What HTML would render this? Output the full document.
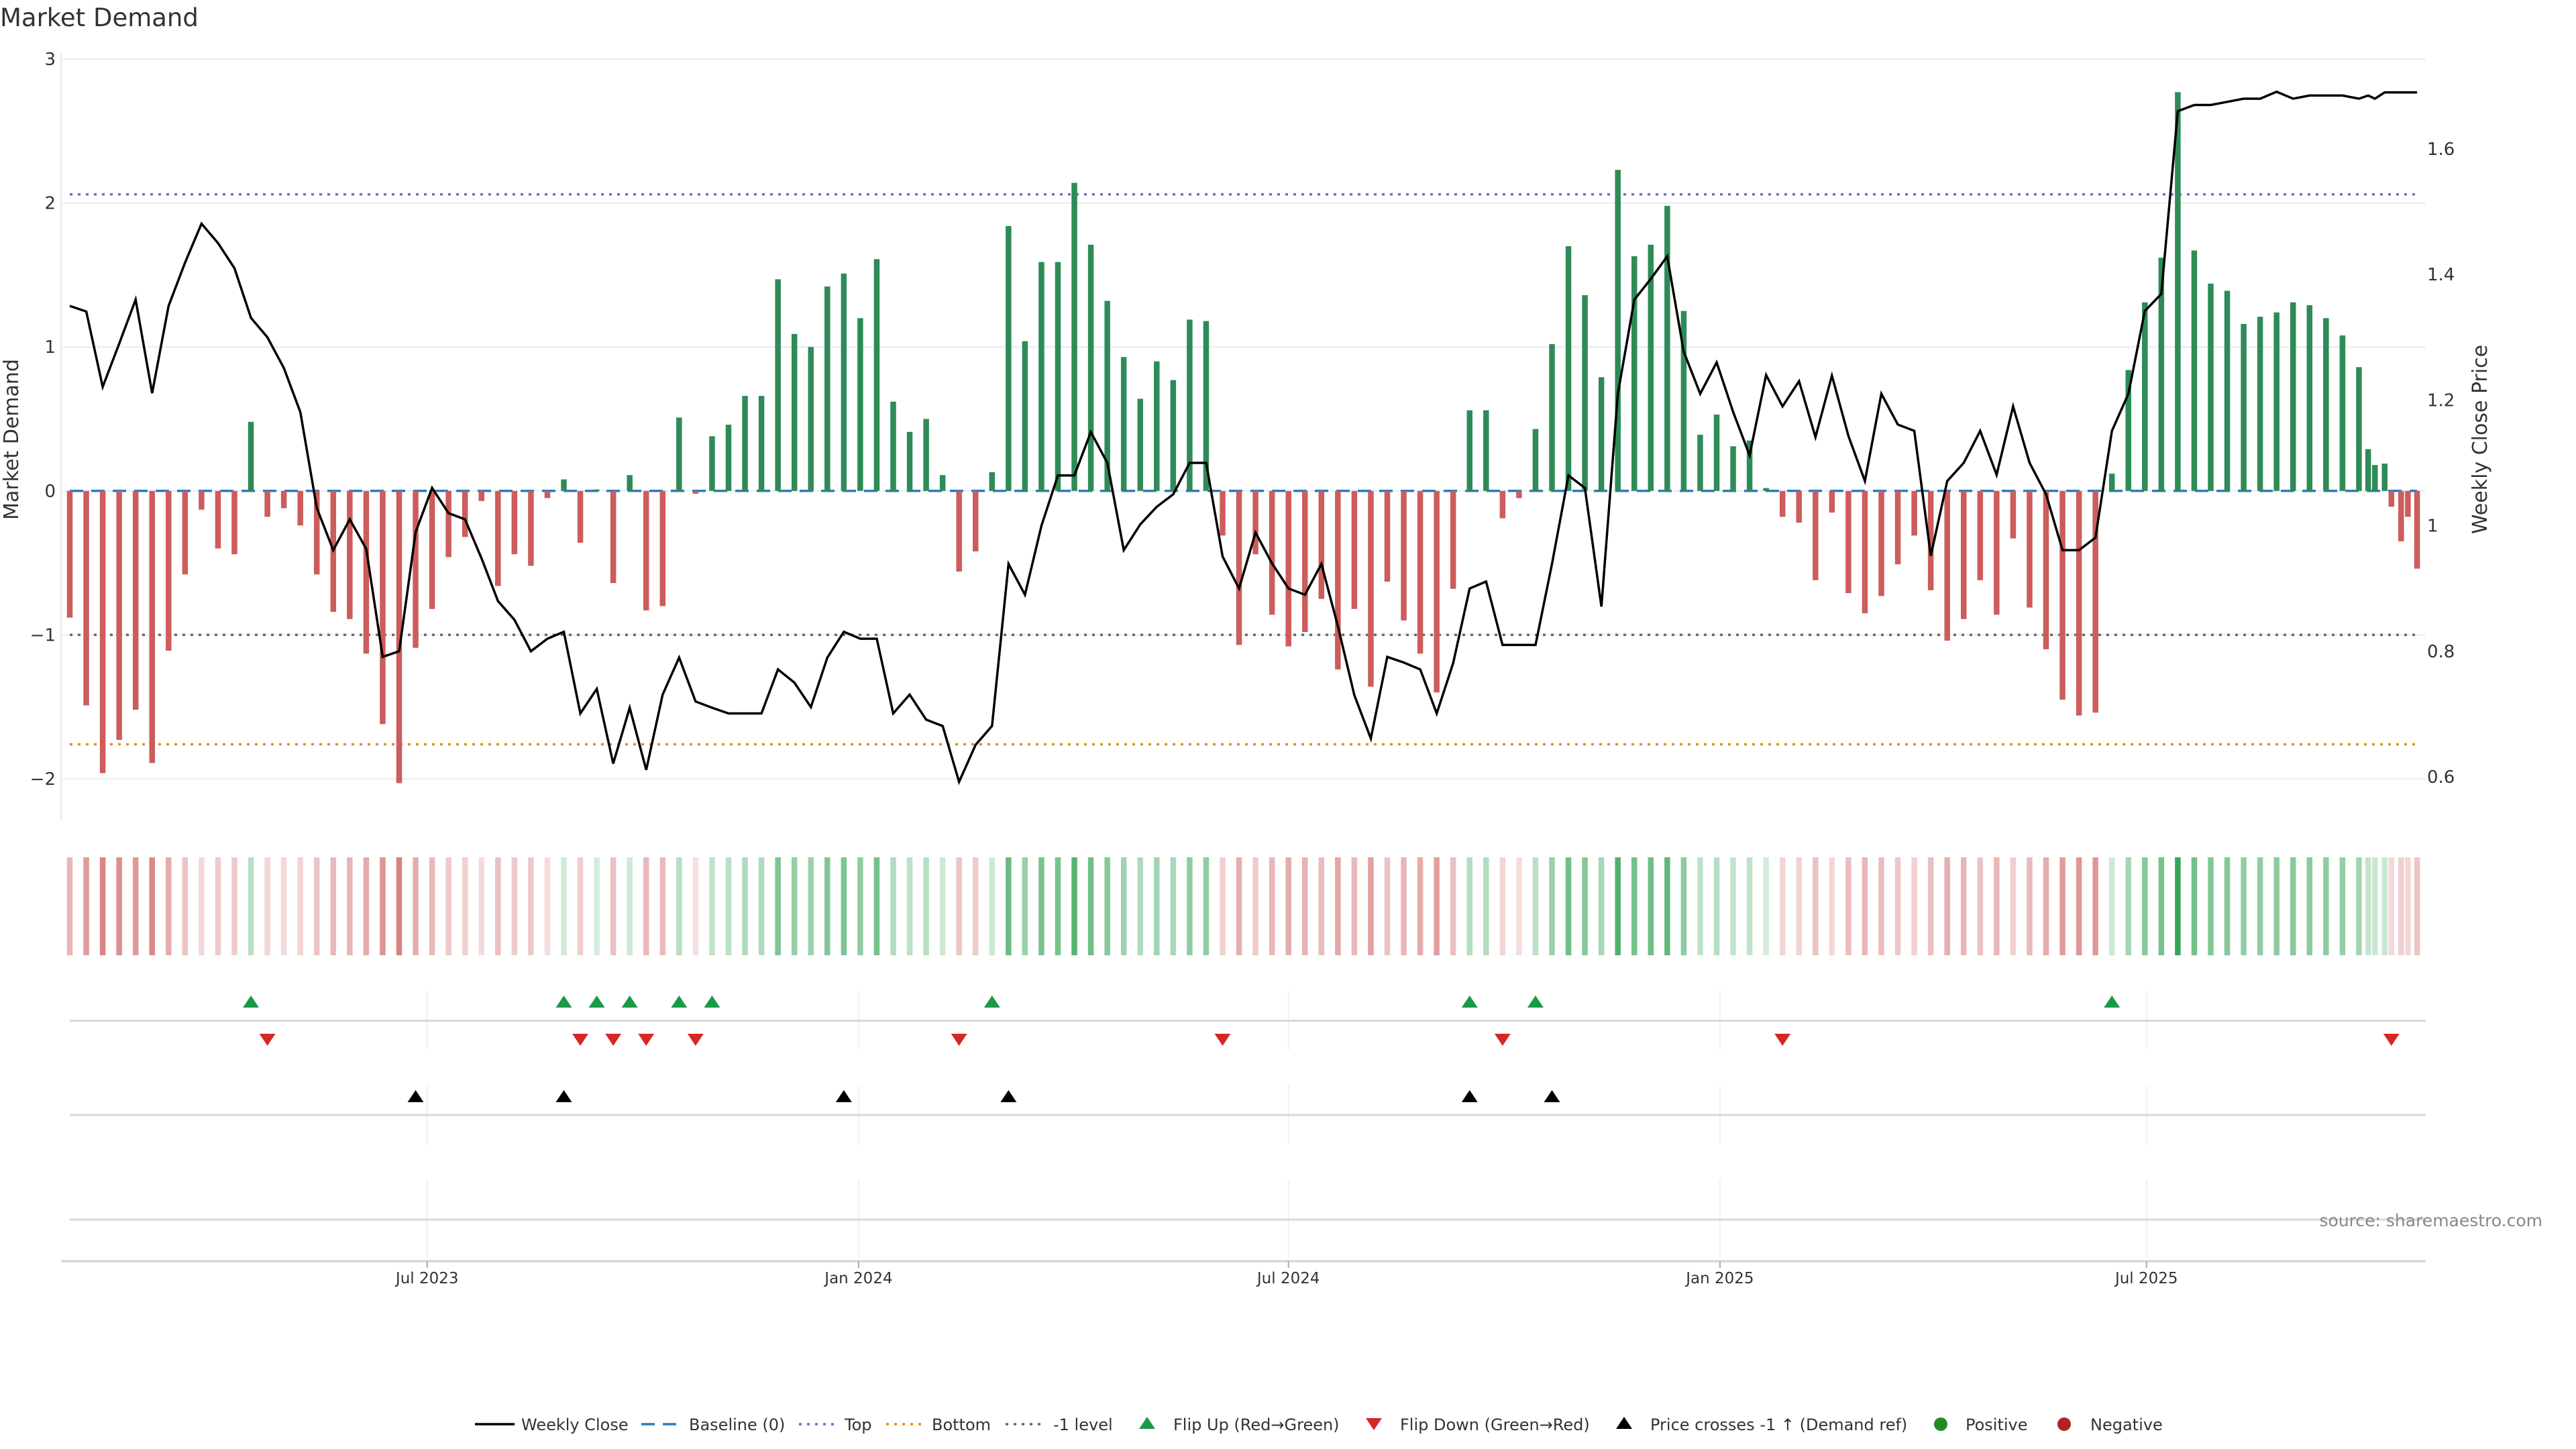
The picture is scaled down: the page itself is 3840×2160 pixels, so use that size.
<!DOCTYPE html>
<html><head><meta charset="utf-8"><style>
html,body{margin:0;padding:0;background:#fff}
svg{display:block;font-family:"DejaVu Sans","Liberation Sans",sans-serif}
</style></head><body>
<svg id="chart" xmlns="http://www.w3.org/2000/svg" width="3840" height="2160" viewBox="0 0 3840 2160">
<rect width="3840" height="2160" fill="#fff"/>
<text x="0" y="39" font-size="37" fill="#333">Market Demand</text>
<g id="grid"></g>
<g id="axes"></g>
<g id="refs"></g>
<g id="bars"></g>
<g id="line"></g>
<g id="strip"></g>
<g id="flips"></g>
<g id="cross"></g>
<text x="3790" y="1828" font-size="25" fill="#888" text-anchor="end">source: sharemaestro.com</text>
<g id="legend"></g>
</svg>
<script>
// week offsets of each observation
const weeks = [];
for (let i = 0; i < 140; i++) weeks.push(i);
weeks.push(139.56, 139.97, 140.56, 140.97, 141.56, 141.97, 142.53);
const demand = [
-0.88,-1.49,-1.96,-1.73,-1.52,-1.89,-1.11,-0.58,-0.13,-0.40,
-0.44,0.48,-0.18,-0.12,-0.24,-0.58,-0.84,-0.89,-1.13,-1.62,
-2.03,-1.09,-0.82,-0.46,-0.32,-0.07,-0.66,-0.44,-0.52,-0.05,
0.08,-0.36,0.01,-0.64,0.11,-0.83,-0.80,0.51,-0.02,0.38,
0.46,0.66,0.66,1.47,1.09,1.00,1.42,1.51,1.20,1.61,
0.62,0.41,0.50,0.11,-0.56,-0.42,0.13,1.84,1.04,1.59,
1.59,2.14,1.71,1.32,0.93,0.64,0.90,0.77,1.19,1.18,
-0.31,-1.07,-0.44,-0.86,-1.08,-0.98,-0.75,-1.24,-0.82,-1.36,
-0.63,-0.90,-1.13,-1.40,-0.68,0.56,0.56,-0.19,-0.05,0.43,
1.02,1.70,1.36,0.79,2.23,1.63,1.71,1.98,1.25,0.39,
0.53,0.31,0.35,0.02,-0.18,-0.22,-0.62,-0.15,-0.71,-0.85,
-0.73,-0.51,-0.31,-0.69,-1.04,-0.89,-0.62,-0.86,-0.33,-0.81,
-1.10,-1.45,-1.56,-1.54,0.12,0.84,1.31,1.62,2.77,1.67,
1.44,1.39,1.16,1.21,1.24,1.31,1.29,1.20,1.08,0.86,
0.29,0.18,0.19,-0.11,-0.35,-0.18,-0.54];
const price = [
1.350,1.341,1.221,1.290,1.360,1.211,1.350,1.419,1.481,1.450,
1.410,1.331,1.300,1.251,1.181,1.028,0.961,1.010,0.963,0.791,
0.800,0.990,1.060,1.020,1.010,0.948,0.880,0.850,0.800,0.820,
0.831,0.701,0.740,0.621,0.710,0.611,0.731,0.790,0.720,0.710,
0.701,0.701,0.701,0.771,0.750,0.711,0.790,0.831,0.820,0.820,
0.701,0.731,0.691,0.681,0.592,0.651,0.681,0.939,0.890,1.000,
1.080,1.080,1.149,1.100,0.961,1.002,1.030,1.050,1.100,1.100,
0.951,0.900,0.989,0.940,0.900,0.890,0.939,0.840,0.730,0.661,
0.791,0.782,0.771,0.701,0.781,0.900,0.911,0.810,0.810,0.810,
0.939,1.080,1.060,0.871,1.210,1.360,1.393,1.429,1.277,1.210,
1.260,1.181,1.112,1.240,1.190,1.230,1.141,1.239,1.143,1.071,
1.210,1.161,1.151,0.952,1.071,1.100,1.151,1.081,1.190,1.100,
1.050,0.961,0.961,0.981,1.151,1.210,1.342,1.369,1.660,1.670,
1.670,1.675,1.680,1.680,1.691,1.680,1.685,1.685,1.685,1.680,
1.685,1.680,1.690,1.690,1.690,1.690,1.690];
const leftTicks = [-2,-1,0,1,2,3];
const leftTickLabels = ["\u22122","\u22121","0","1","2","3"];
const rightTicks = [0.6,0.8,1.0,1.2,1.4,1.6];
const rightTickLabels = ["0.6","0.8","1","1.2","1.4","1.6"];
const dateTicks = [21.7,47.9,74.0,100.2,126.1];
const dateTickLabels = ["Jul 2023","Jan 2024","Jul 2024","Jan 2025","Jul 2025"];
const refLevels = [2.06,-1.0,-1.76];

const NS = "http://www.w3.org/2000/svg";
const X0 = 104, XPW = 24.55;
const PL = 91, PR = 3616;
function xs(t){ return X0 + t * XPW; }
function yD(v){ return 731.8 - v * 214.6; }
function yP(p){ return 1158 - (p - 0.6) * 936; }
function pFromY(y){ return 0.6 + (1158 - y) / 936; }
function mk(tag, attrs, parent){
  const e = document.createElementNS(NS, tag);
  for (const k in attrs) e.setAttribute(k, attrs[k]);
  parent.appendChild(e);
  return e;
}
const G = id => document.getElementById(id);

const grid = G('grid'), axes = G('axes');
leftTicks.forEach((v, i) => {
  const l = mk('line', {x1: PL, x2: PR, y1: yD(v), y2: yD(v), stroke: '#eef0f2', 'stroke-width': 3}, grid);
  
  
  const t = mk('text', {x: 83, y: yD(v) + 9, 'font-size': 26, fill: '#333', 'text-anchor': 'end'}, axes);
  t.textContent = leftTickLabels[i];
  
  
});
rightTicks.forEach((p, i) => {
  const t = mk('text', {x: 3618, y: yP(p) + 9, 'font-size': 26, fill: '#333'}, axes);
  t.textContent = rightTickLabels[i];
  
  
});
const spine = mk('line', {x1: PL, x2: PL, y1: 80, y2: 1223, stroke: '#eceef0', 'stroke-width': 3}, axes);


const yt = mk('text', {x: 0, y: 0, 'font-size': 30, fill: '#333', 'text-anchor': 'middle', transform: 'translate(27,655) rotate(-90)'}, axes);
yt.textContent = 'Market Demand';


const yt2 = mk('text', {x: 0, y: 0, 'font-size': 30, fill: '#333', 'text-anchor': 'middle', transform: 'translate(3707,655) rotate(-90)'}, axes);
yt2.textContent = 'Weekly Close Price';



const panels = [[1477,1565,1521.5],[1618,1706,1662],[1759,1875,1818]];
panels.forEach(pn => {
  dateTicks.forEach(t => {
    const g = mk('line', {x1: xs(t), x2: xs(t), y1: pn[0], y2: pn[1], stroke: '#eef0f2', 'stroke-width': 2}, grid);
    
    
  });
  const l = mk('line', {x1: X0, x2: PR, y1: pn[2], y2: pn[2], stroke: '#d6d8da', 'stroke-width': 3}, axes);
  
  
});
const xa = mk('line', {x1: PL, x2: PR, y1: 1880, y2: 1880, stroke: '#d0d2d4', 'stroke-width': 3}, axes);


dateTicks.forEach((t, i) => {
  const tk = mk('line', {x1: xs(t), x2: xs(t), y1: 1880, y2: 1890, stroke: '#aaa', 'stroke-width': 2}, axes);
  
  
  const tx = mk('text', {x: xs(t), y: 1913, 'font-size': 23, fill: '#333', 'text-anchor': 'middle'}, axes);
  tx.textContent = dateTickLabels[i];
  
  
});

const refs = G('refs');
const xFirst = xs(weeks[0]), xLast = xs(weeks[weeks.length - 1]);
const r1 = mk('line', {x1: xFirst, x2: xLast, y1: yD(refLevels[0]), y2: yD(refLevels[0]), stroke: '#7466d9', 'stroke-width': 3.5, 'stroke-dasharray': '4 8'}, refs);


const r2 = mk('line', {x1: xFirst, x2: xLast, y1: yD(refLevels[1]), y2: yD(refLevels[1]), stroke: '#666', 'stroke-width': 3.5, 'stroke-dasharray': '4 8'}, refs);


const r3 = mk('line', {x1: xFirst, x2: xLast, y1: yD(refLevels[2]), y2: yD(refLevels[2]), stroke: '#e8891a', 'stroke-width': 3.5, 'stroke-dasharray': '4 8'}, refs);



const bars = G('bars'), strip = G('strip');
demand.forEach((v, i) => {
  const x = xs(weeks[i]);
  const y0 = yD(0), y1 = yD(v);
  const b = mk('rect', {x: x - 4.25, y: Math.min(y0, y1), width: 8.5, height: Math.max(1, Math.abs(y1 - y0)), fill: v >= 0 ? '#2e8b57' : '#cd5c5c'}, bars);
  
  
  const a = Math.min(0.95, 0.2 + 0.28 * Math.abs(v));
  const s = mk('rect', {x: x - 4.25, y: 1278, width: 8.5, height: 146, fill: v >= 0 ? '#2ea050' : '#cd5c5c', 'fill-opacity': a}, strip);
  
  
});
const bl = mk('line', {x1: xFirst, x2: xLast, y1: yD(0), y2: yD(0), stroke: '#2f7bb5', 'stroke-width': 3.5, 'stroke-dasharray': '20 12'}, refs);



const pts = price.map((p, i) => xs(weeks[i]).toFixed(1) + ',' + yP(p).toFixed(1)).join(' ');
const pl = mk('polyline', {points: pts, fill: 'none', stroke: '#000', 'stroke-width': 3.5, 'stroke-linejoin': 'miter'}, G('line'));



function tri(parent, x, y, up, color, name){
  const w = 12, h = 9;
  const d = up ? `M${x-w},${y+h} L${x+w},${y+h} L${x},${y-h} Z` : `M${x-w},${y-h} L${x+w},${y-h} L${x},${y+h} Z`;
  const p = mk('path', {d: d, fill: color}, parent);
  
  
}
const flips = G('flips');
for (let i = 1; i < demand.length; i++) {
  if (demand[i - 1] < 0 && demand[i] >= 0) tri(flips, xs(weeks[i]), 1493, true, '#1a9a46', 'flip-up-marker');
  if (demand[i - 1] >= 0 && demand[i] < 0) tri(flips, xs(weeks[i]), 1550, false, '#d62728', 'flip-down-marker');
}
const thr = pFromY(yD(-1));
const cross = G('cross');
for (let i = 1; i < price.length; i++) {
  if (price[i - 1] < thr && price[i] >= thr) tri(cross, xs(weeks[i]), 1634, true, '#000', 'price-cross-marker');
}

const lg = G('legend');
const LY = 2123;
function ltext(x, s){
  const t = mk('text', {x: x, y: LY + 9, 'font-size': 24, fill: '#333'}, lg);
  t.textContent = s;
  
  
}
function lline(x1, x2, color, dash){
  const l = mk('line', {x1: x1, x2: x2, y1: LY, y2: LY, stroke: color, 'stroke-width': 3.5}, lg);
  if (dash) l.setAttribute('stroke-dasharray', dash);
  
  
}
lline(708, 767, '#000', null); ltext(777, 'Weekly Close');
lline(956, 1012, '#2f7bb5', '20 12'); ltext(1027, 'Baseline (0)');
lline(1191, 1247, '#7466d9', '4 8'); ltext(1259, 'Top');
lline(1321, 1377, '#e8891a', '4 8'); ltext(1389, 'Bottom');
lline(1499, 1558, '#666', '4 8'); ltext(1570, '-1 level');
tri(lg, 1710, LY - 2, true, '#1a9a46', 'legend-flip-up'); ltext(1749, 'Flip Up (Red\u2192Green)');
tri(lg, 2048, LY, false, '#d62728', 'legend-flip-down'); ltext(2087, 'Flip Down (Green\u2192Red)');
tri(lg, 2421, LY - 2, true, '#000', 'legend-price-cross'); ltext(2460, 'Price crosses -1 \u2191 (Demand ref)');
const c1 = mk('circle', {cx: 2893, cy: LY, r: 10, fill: '#228b22'}, lg);


ltext(2930, 'Positive');
const c2 = mk('circle', {cx: 3077, cy: LY, r: 10, fill: '#b22222'}, lg);


ltext(3116, 'Negative');
</script>
</body></html>
